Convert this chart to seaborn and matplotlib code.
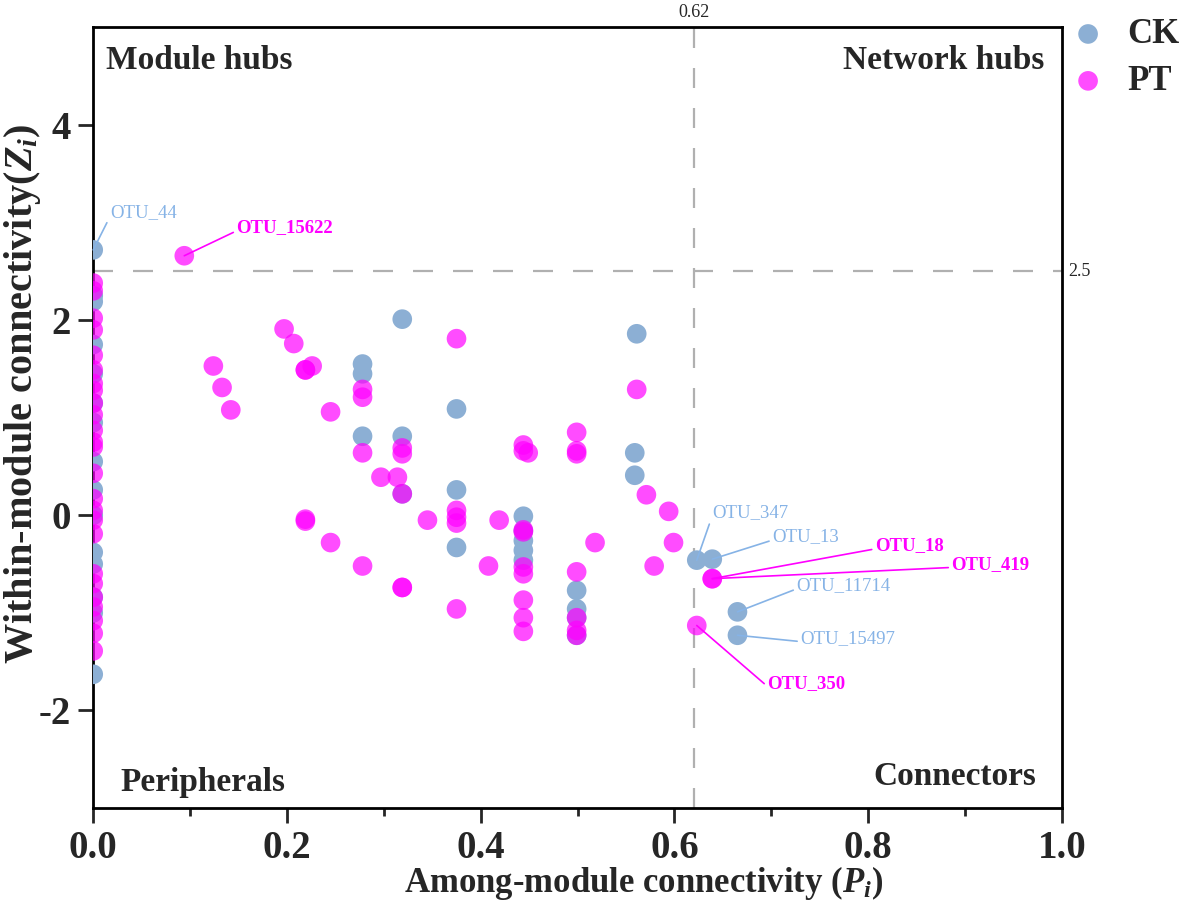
import numpy as np
import pandas as pd
import seaborn as sns
import matplotlib
matplotlib.use("Agg")
from matplotlib import pyplot as plt

sns.set_style("ticks")
plt.rcParams['font.family'] = ['Liberation Serif', 'DejaVu Serif']
plt.rcParams['mathtext.fontset'] = 'custom'
plt.rcParams['mathtext.it'] = 'Liberation Serif:italic:bold'
plt.rcParams['mathtext.rm'] = 'Liberation Serif:bold'
plt.rcParams['mathtext.bf'] = 'Liberation Serif:bold'
plt.rcParams['axes.unicode_minus'] = False

# data
ck_p = [0, 0, 0, 0, 0, 0, 0, 0, 0, 0, 0, 0, 0, 0, 0,
        0.319, 0.278, 0.278, 0.278, 0.375, 0.375, 0.375, 0.319, 0.319,
        0.561, 0.559, 0.559,
        0.444, 0.444, 0.444, 0.444, 0.444,
        0.499, 0.499, 0.499, 0.499,
        0.623, 0.639, 0.665, 0.665]
ck_z = [2.72, 2.25, 2.19, 1.75, 1.45, 1.15, 0.95, 0.55, 0.26, 0.0, -0.38, -0.50, -0.84, -1.0, -1.63,
        2.01, 1.55, 1.45, 0.81, 1.09, 0.26, -0.33, 0.81, 0.22,
        1.86, 0.64, 0.41,
        -0.01, -0.16, -0.26, -0.36, -0.46,
        -0.77, -0.96, -1.05, -1.23,
        -0.46, -0.45, -0.99, -1.23]

pt_p = [0] * 25 + [
    0.094, 0.197, 0.207, 0.226, 0.219, 0.219, 0.124, 0.133, 0.142, 0.245,
    0.375, 0.278, 0.278, 0.278, 0.319, 0.319, 0.297, 0.314, 0.319,
    0.375, 0.375, 0.375, 0.345, 0.219, 0.219, 0.245, 0.278, 0.319, 0.319, 0.375,
    0.419, 0.408, 0.444, 0.444, 0.449, 0.499, 0.499, 0.499,
    0.444, 0.444, 0.444, 0.444, 0.444, 0.444, 0.444,
    0.499, 0.499, 0.499, 0.499, 0.518,
    0.571, 0.594, 0.599, 0.579, 0.561,
    0.639, 0.639, 0.623]
pt_z = [2.38, 2.30, 2.02, 1.90, 1.64, 1.49, 1.35, 1.28, 1.15, 1.03, 0.87, 0.75, 0.70,
        0.43, 0.17, 0.05, -0.05, -0.19, -0.60, -0.70, -0.84, -0.94, -1.08, -1.21, -1.39] + [
    2.66, 1.91, 1.76, 1.53, 1.49, 1.49, 1.53, 1.31, 1.08, 1.06,
    1.81, 1.29, 1.21, 0.64, 0.69, 0.63, 0.39, 0.39, 0.22,
    0.05, -0.02, -0.08, -0.05, -0.04, -0.06, -0.28, -0.52, -0.74, -0.74, -0.96,
    -0.05, -0.52, 0.72, 0.66, 0.64, 0.85, 0.66, 0.63,
    -0.15, -0.17, -0.53, -0.60, -0.87, -1.05, -1.19,
    -0.58, -1.05, -1.18, -1.23, -0.28,
    0.21, 0.04, -0.28, -0.52, 1.29,
    -0.65, -0.65, -1.13]

# labelled OTUs: name, group, point, text position
otu_names = ['OTU_44', 'OTU_15622', 'OTU_347', 'OTU_13', 'OTU_18', 'OTU_419',
             'OTU_11714', 'OTU_15497', 'OTU_350']
otu_group = ['CK', 'PT', 'CK', 'CK', 'PT', 'PT', 'CK', 'CK', 'PT']
otu_p = [0.0, 0.094, 0.623, 0.639, 0.639, 0.639, 0.665, 0.665, 0.623]
otu_z = [2.72, 2.66, -0.46, -0.45, -0.65, -0.65, -0.99, -1.23, -1.13]
otu_tp = [0.0175, 0.148, 0.639, 0.701, 0.807, 0.886, 0.726, 0.730, 0.696]
otu_tz = [3.10, 2.95, 0.03, -0.22, -0.31, -0.50, -0.72, -1.26, -1.72]

p_thr = 0.62
z_thr = 2.5

ck_col = '#8CAFD4'
ck_txt = '#86B3E6'
pt_col = '#FF00FF'

df_ck = pd.DataFrame({'P': ck_p, 'Z': ck_z})
df_pt = pd.DataFrame({'P': pt_p, 'Z': pt_z})

fig = plt.figure(figsize=(11.8, 9.15), dpi=100)
ax = fig.add_axes([0.079, 0.117, 0.821, 0.853])

sns.scatterplot(data=df_ck, x='P', y='Z', color=ck_col, s=200, alpha=1.0,
                edgecolor='none', label='CK', ax=ax, zorder=3)
sns.scatterplot(data=df_pt, x='P', y='Z', color=pt_col, s=200, alpha=0.7,
                edgecolor='none', label='PT', ax=ax, zorder=4)

ax.axvline(p_thr, color='#B0B0B0', lw=1.6, dashes=(9, 9), zorder=1)
ax.axhline(z_thr, color='#B0B0B0', lw=1.6, dashes=(9, 9), zorder=1)

ax.set_xlim(0, 1.0)
ax.set_ylim(-3, 5)
ax.set_xticks([0, 0.2, 0.4, 0.6, 0.8, 1.0])
ax.set_xticks([0.1, 0.3, 0.5, 0.7, 0.9], minor=True)
ax.set_yticks([-2, 0, 2, 4])
ax.set_xticklabels(['0.0', '0.2', '0.4', '0.6', '0.8', '1.0'])
for lab in ax.get_xticklabels() + ax.get_yticklabels():
    lab.set_fontweight('bold')
    lab.set_fontsize(28)
ax.tick_params(axis='both', which='major', length=11, width=2, direction='out', pad=5)
ax.tick_params(axis='x', which='minor', length=6, width=2, direction='out')
for sp in ax.spines.values():
    sp.set_linewidth(2)
    sp.set_color('black')

ax.set_xlabel('Among-module connectivity ($P_i$)', fontsize=25, fontweight='bold', labelpad=0)
ax.xaxis.set_label_coords(0.568, -0.072)
ax.set_ylabel('Within-module connectivity($Z_i$)', fontsize=29, fontweight='bold')
ax.yaxis.set_label_coords(-0.052, 0.53)

qkw = dict(fontsize=24, fontweight='bold', transform=ax.transAxes)
ax.text(0.013, 0.947, 'Module hubs', ha='left', va='baseline', **qkw)
ax.text(0.982, 0.947, 'Network hubs', ha='right', va='baseline', **qkw)
ax.text(0.028, 0.022, 'Peripherals', ha='left', va='baseline', **qkw)
ax.text(0.973, 0.029, 'Connectors', ha='right', va='baseline', **qkw)

ax.text(p_thr, 5.07, '0.62', ha='center', va='bottom', fontsize=13)
ax.text(1.006, z_thr, '2.5', ha='left', va='center', fontsize=13,
        transform=ax.get_yaxis_transform())

for name, g, p, z, tp, tz in zip(otu_names, otu_group, otu_p, otu_z, otu_tp, otu_tz):
    c = ck_txt if g == 'CK' else pt_col
    w = 'normal' if g == 'CK' else 'bold'
    ax.annotate(name, xy=(p, z), xytext=(tp, tz), color=c, fontsize=13.5,
                fontweight=w, ha='left', va='center', zorder=6,
                arrowprops=dict(arrowstyle='-', color=c, lw=1.2, shrinkA=0,
                                shrinkB=0, relpos=(0, 0.3)))

ax.legend(loc='upper left', bbox_to_anchor=(1.009, 1.012), frameon=False,
          prop={'size': 25, 'weight': 'bold'}, handletextpad=0.63,
          labelspacing=0.4, borderaxespad=0, borderpad=0, handlelength=1.0)

fig.savefig('out.png', dpi=100)
